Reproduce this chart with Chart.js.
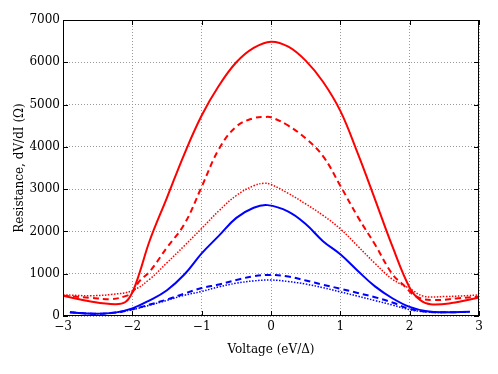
<!DOCTYPE html>
<html>
<head>
<meta charset="utf-8">
<script src="https://cdn.jsdelivr.net/npm/chart.js@4"></script>
<style>
  html, body { margin: 0; padding: 0; background: #fff; }
  #wrap { width: 498px; height: 374px; }
</style>
</head>
<body>
<div id="wrap"><canvas id="resChart"></canvas></div>
<script>
// voltage in units of eV/Delta, resistance in Ohm
const redSolidV = [-3, -2.6, -2.25, -2.1, -2.0, -1.9, -1.75, -1.5, -1.25, -1.0, -0.75, -0.5, -0.25, 0, 0.25, 0.5, 0.75, 1.0, 1.25, 1.5, 1.75, 2.0, 2.15, 2.3, 2.6, 3];
const redSolid  = [480, 345, 280, 330, 560, 1000, 1780, 2800, 3830, 4740, 5450, 6000, 6340, 6488, 6370, 6040, 5540, 4850, 3850, 2760, 1650, 670, 378, 276, 305, 440];

const redDashedV = [-3, -2.6, -2.3, -2.1, -2.0, -1.9, -1.75, -1.5, -1.25, -1.0, -0.75, -0.5, -0.25, -0.1, 0, 0.25, 0.5, 0.75, 1.0, 1.25, 1.5, 1.75, 1.9, 2.1, 2.34, 2.7, 3];
const redDashed  = [480, 430, 400, 470, 560, 820, 1050, 1620, 2170, 3055, 3950, 4480, 4680, 4705, 4700, 4500, 4200, 3780, 3080, 2350, 1690, 990, 750, 457, 378, 418, 457];

const redDottedV = [-3, -2.6, -2.3, -2.0, -1.75, -1.5, -1.25, -1.0, -0.75, -0.5, -0.25, -0.1, 0, 0.25, 0.5, 0.75, 1.0, 1.25, 1.5, 1.75, 2.0, 2.2, 2.5, 3];
const redDotted  = [500, 480, 510, 600, 870, 1260, 1660, 2071, 2490, 2850, 3080, 3140, 3110, 2900, 2650, 2380, 2060, 1655, 1244, 870, 650, 470, 460, 496];

const blueSolidV = [-2.9, -2.56, -2.25, -2.0, -1.75, -1.5, -1.25, -1.0, -0.75, -0.5, -0.25, -0.05, 0.25, 0.5, 0.75, 1.0, 1.25, 1.5, 1.75, 2.0, 2.25, 2.5, 2.87];
const blueSolid  = [86, 55, 80, 180, 370, 610, 980, 1480, 1900, 2320, 2560, 2622, 2470, 2175, 1770, 1460, 1070, 700, 420, 215, 110, 86, 100];

const blueDashedV = [-2.9, -2.56, -2.25, -2.0, -1.75, -1.5, -1.25, -1.0, -0.75, -0.5, -0.25, 0, 0.25, 0.5, 0.75, 1.0, 1.25, 1.5, 1.75, 2.0, 2.25, 2.5, 2.87];
const blueDashed  = [86, 55, 80, 160, 270, 390, 530, 660, 745, 850, 940, 970, 935, 840, 740, 645, 545, 445, 320, 170, 100, 86, 100];

const blueDottedV = [-2.9, -2.56, -2.25, -2.0, -1.75, -1.5, -1.25, -1.0, -0.75, -0.5, -0.25, 0, 0.25, 0.5, 0.75, 1.0, 1.25, 1.5, 1.75, 2.0, 2.25, 2.5, 2.87];
const blueDotted  = [86, 55, 80, 150, 255, 370, 490, 580, 690, 775, 830, 851, 815, 755, 670, 570, 470, 365, 260, 150, 95, 86, 100];

const xTicks = [-3, -2, -1, 0, 1, 2, 3];
const yTicks = [0, 1000, 2000, 3000, 4000, 5000, 6000, 7000];

function pts(xs, ys) {
  return xs.map((x, i) => ({ x: x, y: ys[i] }));
}

function series(xs, ys, color, dash, width) {
  return {
    data: pts(xs, ys),
    borderColor: color,
    borderWidth: width,
    borderDash: dash,
    pointRadius: 0,
    fill: false,
    tension: 0.4
  };
}

const serif = "'DejaVu Serif', 'Liberation Serif', serif";

// black frame plus inward tick marks, like the original plot
const frame = {
  id: "frame",
  afterDraw(chart) {
    const ctx = chart.ctx;
    const a = chart.chartArea;
    const xs = chart.scales.x, ys = chart.scales.y;
    ctx.save();
    ctx.strokeStyle = "#000";
    ctx.lineWidth = 1;
    ctx.setLineDash([]);
    ctx.strokeRect(a.left + 0.5, a.top + 0.5, a.right - a.left - 1, a.bottom - a.top - 1);
    ctx.beginPath();
    xTicks.forEach(t => {
      const px = Math.round(xs.getPixelForValue(t)) + 0.5;
      ctx.moveTo(px, a.bottom); ctx.lineTo(px, a.bottom - 5);
      ctx.moveTo(px, a.top); ctx.lineTo(px, a.top + 5);
    });
    yTicks.forEach(t => {
      const py = Math.round(ys.getPixelForValue(t)) + 0.5;
      ctx.moveTo(a.left, py); ctx.lineTo(a.left + 5, py);
      ctx.moveTo(a.right, py); ctx.lineTo(a.right - 5, py);
    });
    ctx.stroke();
    ctx.restore();
  }
};

new Chart(document.getElementById("resChart"), {
  type: "line",
  data: {
    datasets: [
      series(redSolidV, redSolid, "#ff0000", [], 2),
      series(redDashedV, redDashed, "#ff0000", [6, 4], 2),
      series(redDottedV, redDotted, "#ff0000", [1.5, 1.5], 1.5),
      series(blueSolidV, blueSolid, "#0000ff", [], 2),
      series(blueDashedV, blueDashed, "#0000ff", [6, 4], 2),
      series(blueDottedV, blueDotted, "#0000ff", [1.5, 1.5], 1.5)
    ]
  },
  options: {
    responsive: true,
    maintainAspectRatio: false,
    animation: false,
    layout: { padding: { top: 20, right: 19, left: 0, bottom: 0 } },
    plugins: { legend: { display: false }, tooltip: { enabled: false } },
    scales: {
      x: {
        type: "linear",
        min: -3, max: 3,
        afterBuildTicks: s => { s.ticks = xTicks.map(v => ({ value: v })); },
        afterFit: s => { s.height = 58; },
        grid: { color: "#999", lineWidth: 1, drawTicks: false },
        border: { display: false, dash: [1, 2] },
        ticks: {
          padding: 4,
          color: "#000",
          font: { family: serif, size: 12 },
          callback: v => String(v).replace("-", "\u2212")
        },
        title: {
          display: true,
          text: "Voltage (eV/Δ)",
          color: "#000",
          font: { family: serif, size: 12 },
          padding: { top: 0, bottom: 17 }
        }
      },
      y: {
        min: 0, max: 7000,
        afterBuildTicks: s => { s.ticks = yTicks.map(v => ({ value: v })); },
        afterFit: s => { s.width = 63; },
        grid: { color: "#999", lineWidth: 1, drawTicks: false },
        border: { display: false, dash: [1, 2] },
        ticks: {
          padding: 3,
          color: "#000",
          font: { family: serif, size: 12 },
          callback: v => String(v)
        },
        title: {
          display: true,
          text: "Resistance, dV/dI (Ω)",
          color: "#000",
          font: { family: serif, size: 12 },
          padding: { top: 13, bottom: 0 }
        }
      }
    }
  },
  plugins: [frame]
});
</script>
</body>
</html>
